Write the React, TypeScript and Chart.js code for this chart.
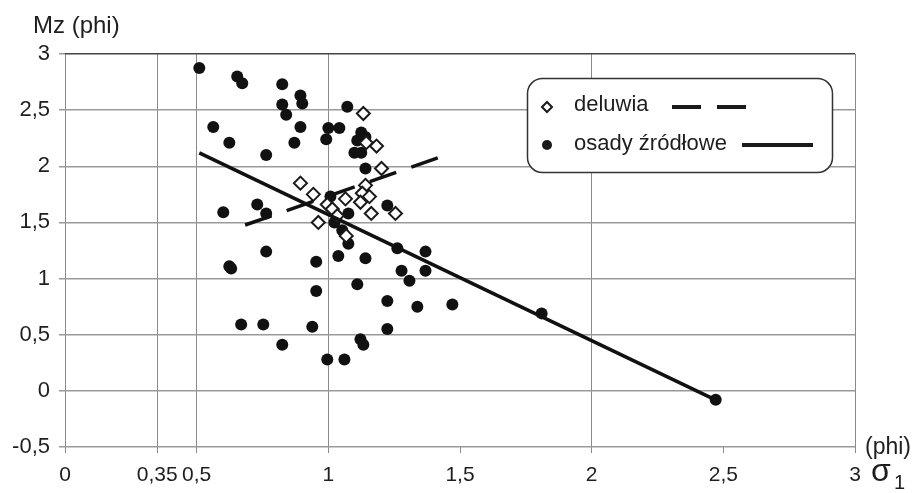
import React, { useEffect, useRef } from "react";
import { Chart, registerables } from "chart.js";

Chart.register(...registerables);

// ---- data ----
const seriesLabels = ["deluwia", "osady źródłowe"];

const deluwiaX = [1.133, 1.144, 1.183, 1.202, 0.894, 0.943, 1.141, 1.129, 1.156, 1.122, 1.065, 0.996, 1.015, 1.034, 1.163, 1.255, 0.962, 1.068];
const deluwiaY = [2.47, 2.21, 2.18, 1.98, 1.85, 1.75, 1.83, 1.76, 1.73, 1.68, 1.71, 1.66, 1.62, 1.56, 1.58, 1.58, 1.50, 1.38];

const osadyX = [0.510, 0.654, 0.673, 0.825, 0.894, 0.901, 0.825, 0.840, 1.072, 0.563, 0.624, 0.894, 0.871, 0.764, 1.000, 1.042, 0.992, 1.125, 1.141, 1.110, 1.099, 1.125, 1.141, 1.224, 0.601, 0.730, 0.764, 1.076, 1.008, 1.023, 1.053, 1.076, 0.764, 0.624, 0.631, 0.954, 1.038, 1.141, 1.262, 1.369, 1.278, 1.369, 1.308, 0.954, 1.110, 1.224, 1.338, 1.471, 0.669, 0.753, 0.939, 1.224, 0.825, 1.122, 1.133, 0.996, 1.061, 1.810, 2.471];
const osadyY = [2.875, 2.80, 2.74, 2.73, 2.63, 2.56, 2.55, 2.46, 2.53, 2.35, 2.21, 2.35, 2.21, 2.10, 2.34, 2.34, 2.24, 2.30, 2.26, 2.23, 2.12, 2.12, 1.98, 1.65, 1.59, 1.66, 1.58, 1.58, 1.73, 1.50, 1.43, 1.31, 1.24, 1.11, 1.09, 1.15, 1.20, 1.18, 1.27, 1.24, 1.07, 1.07, 0.98, 0.89, 0.95, 0.80, 0.75, 0.77, 0.59, 0.59, 0.57, 0.55, 0.41, 0.46, 0.41, 0.28, 0.28, 0.69, -0.08];

const deluwiaTrendX = [0.684, 1.426];
const deluwiaTrendY = [1.477, 2.083];
const osadyTrendX = [0.51, 2.47];
const osadyTrendY = [2.12, -0.08];

const xTickValues = [0, 0.35, 0.5, 1, 1.5, 2, 2.5, 3];
const xTickLabels = ["0", "0,35", "0,5", "1", "1,5", "2", "2,5", "3"];
const xNoGrid = [1.5, 2.5];
const yTickValues = [-0.5, 0, 0.5, 1, 1.5, 2, 2.5, 3];
const yTickLabels = ["-0,5", "0", "0,5", "1", "1,5", "2", "2,5", "3"];

const yTitle = "Mz (phi)";
const xUnit = "(phi)";
const xSymbol = "σ";
const xSub = "1";

const FONT = "'Liberation Sans', Arial, sans-serif";
const TEXT = "#1e1e1e";

const pts = (xs: number[], ys: number[]) => xs.map((x, i) => ({ x, y: ys[i] }));

const overlayPlugin = {
  id: "overlay",
  afterDraw(chart: any) {
    const ctx = chart.ctx as CanvasRenderingContext2D;
    ctx.save();
    ctx.fillStyle = TEXT;
    ctx.textBaseline = "alphabetic";
    ctx.textAlign = "left";
    // axis titles
    ctx.font = `24px ${FONT}`;
    ctx.fillText(yTitle, 33, 33);
    ctx.font = `23px ${FONT}`;
    ctx.fillText(xUnit, 865, 454);
    ctx.font = `32px ${FONT}`;
    ctx.fillText(xSymbol, 871, 481);
    ctx.font = `20px ${FONT}`;
    ctx.fillText(xSub, 894, 489);

    // legend box
    ctx.beginPath();
    (ctx as any).roundRect(527.5, 78.5, 305, 94, 15);
    ctx.fillStyle = "#fff";
    ctx.fill();
    ctx.lineWidth = 1.5;
    ctx.strokeStyle = "#333";
    ctx.stroke();

    // entry 1: diamond
    ctx.beginPath();
    ctx.moveTo(547 - 5, 107);
    ctx.lineTo(547, 107 - 5);
    ctx.lineTo(547 + 5, 107);
    ctx.lineTo(547, 107 + 5);
    ctx.closePath();
    ctx.fillStyle = "#fff";
    ctx.fill();
    ctx.lineWidth = 2;
    ctx.strokeStyle = "#1a1a1a";
    ctx.stroke();
    ctx.fillStyle = TEXT;
    ctx.font = `22px ${FONT}`;
    ctx.fillText(seriesLabels[0], 574, 111);
    ctx.beginPath();
    ctx.setLineDash([29, 16]);
    ctx.lineWidth = 4;
    ctx.strokeStyle = "#1a1a1a";
    ctx.moveTo(672, 107);
    ctx.lineTo(746, 107);
    ctx.stroke();
    ctx.setLineDash([]);

    // entry 2: filled circle
    ctx.beginPath();
    ctx.arc(547, 145, 5, 0, Math.PI * 2);
    ctx.fillStyle = "#1a1a1a";
    ctx.fill();
    ctx.fillStyle = TEXT;
    ctx.fillText(seriesLabels[1], 574, 150);
    ctx.beginPath();
    ctx.lineWidth = 4;
    ctx.moveTo(742, 145);
    ctx.lineTo(813, 145);
    ctx.stroke();
    ctx.restore();
  },
};

export default function App() {
  const ref = useRef<HTMLCanvasElement | null>(null);
  useEffect(() => {
    if (!ref.current) return;
    const chart = new Chart(ref.current, {
      type: "scatter",
      data: {
        datasets: [
          {
            label: seriesLabels[0] + " trend",
            data: pts(deluwiaTrendX, deluwiaTrendY),
            showLine: true,
            borderColor: "#111",
            borderWidth: 3.5,
            borderDash: [28, 16],
            pointRadius: 0,
            order: 0,
          } as any,
          {
            label: seriesLabels[1] + " trend",
            data: pts(osadyTrendX, osadyTrendY),
            showLine: true,
            borderColor: "#111",
            borderWidth: 3.5,
            pointRadius: 0,
            order: 1,
          },
          {
            label: seriesLabels[0],
            data: pts(deluwiaX, deluwiaY),
            pointStyle: "rectRot",
            pointRadius: 6.5,
            pointBorderWidth: 2,
            pointBorderColor: "#1a1a1a",
            pointBackgroundColor: "#fff",
            order: 2,
          },
          {
            label: seriesLabels[1],
            data: pts(osadyX, osadyY),
            pointStyle: "circle",
            pointRadius: 6,
            pointBorderWidth: 0,
            pointBackgroundColor: "#111",
            pointBorderColor: "#111",
            order: 3,
          },
        ],
      },
      options: {
        animation: false,
        responsive: false,
        maintainAspectRatio: false,
        layout: { padding: { left: 0, top: 54, right: 61, bottom: 0 } },
        plugins: { legend: { display: false }, tooltip: { enabled: false }, title: { display: false } },
        scales: {
          x: {
            type: "linear",
            min: 0,
            max: 3,
            afterBuildTicks: (s: any) => {
              s.ticks = xTickValues.map((v) => ({ value: v }));
            },
            afterFit: (s: any) => {
              s.height = 46;
            },
            border: { display: false },
            grid: {
              color: (c: any) => (xNoGrid.includes(c.tick?.value) ? "rgba(0,0,0,0)" : "#8a8a8a"),
              tickColor: "#8a8a8a",
              lineWidth: 1,
              tickLength: 6,
              drawTicks: true,
            },
            ticks: {
              autoSkip: false,
              maxRotation: 0,
              padding: 10,
              color: TEXT,
              font: { family: FONT, size: 21 },
              callback: (_v: any, i: number) => xTickLabels[i],
            },
          },
          y: {
            type: "linear",
            min: -0.5,
            max: 3,
            afterBuildTicks: (s: any) => {
              s.ticks = yTickValues.map((v) => ({ value: v }));
            },
            afterFit: (s: any) => {
              s.width = 65;
            },
            border: { display: false },
            grid: {
              color: (c: any) => (c.tick?.value === 3 ? "#444" : "#9a9a9a"),
              tickColor: "#9a9a9a",
              lineWidth: 1.5,
              tickLength: 6,
            },
            ticks: {
              padding: 9,
              color: TEXT,
              font: { family: FONT, size: 22 },
              callback: (_v: any, i: number) => yTickLabels[i],
            },
          },
        },
      },
      plugins: [overlayPlugin],
    });
    return () => chart.destroy();
  }, []);
  return (
    <div style={{ position: "absolute", left: 0, top: 0, width: 916, height: 493, background: "#fff" }}>
      <canvas ref={ref} width={916} height={493} style={{ width: 916, height: 493, display: "block" }} />
    </div>
  );
}
